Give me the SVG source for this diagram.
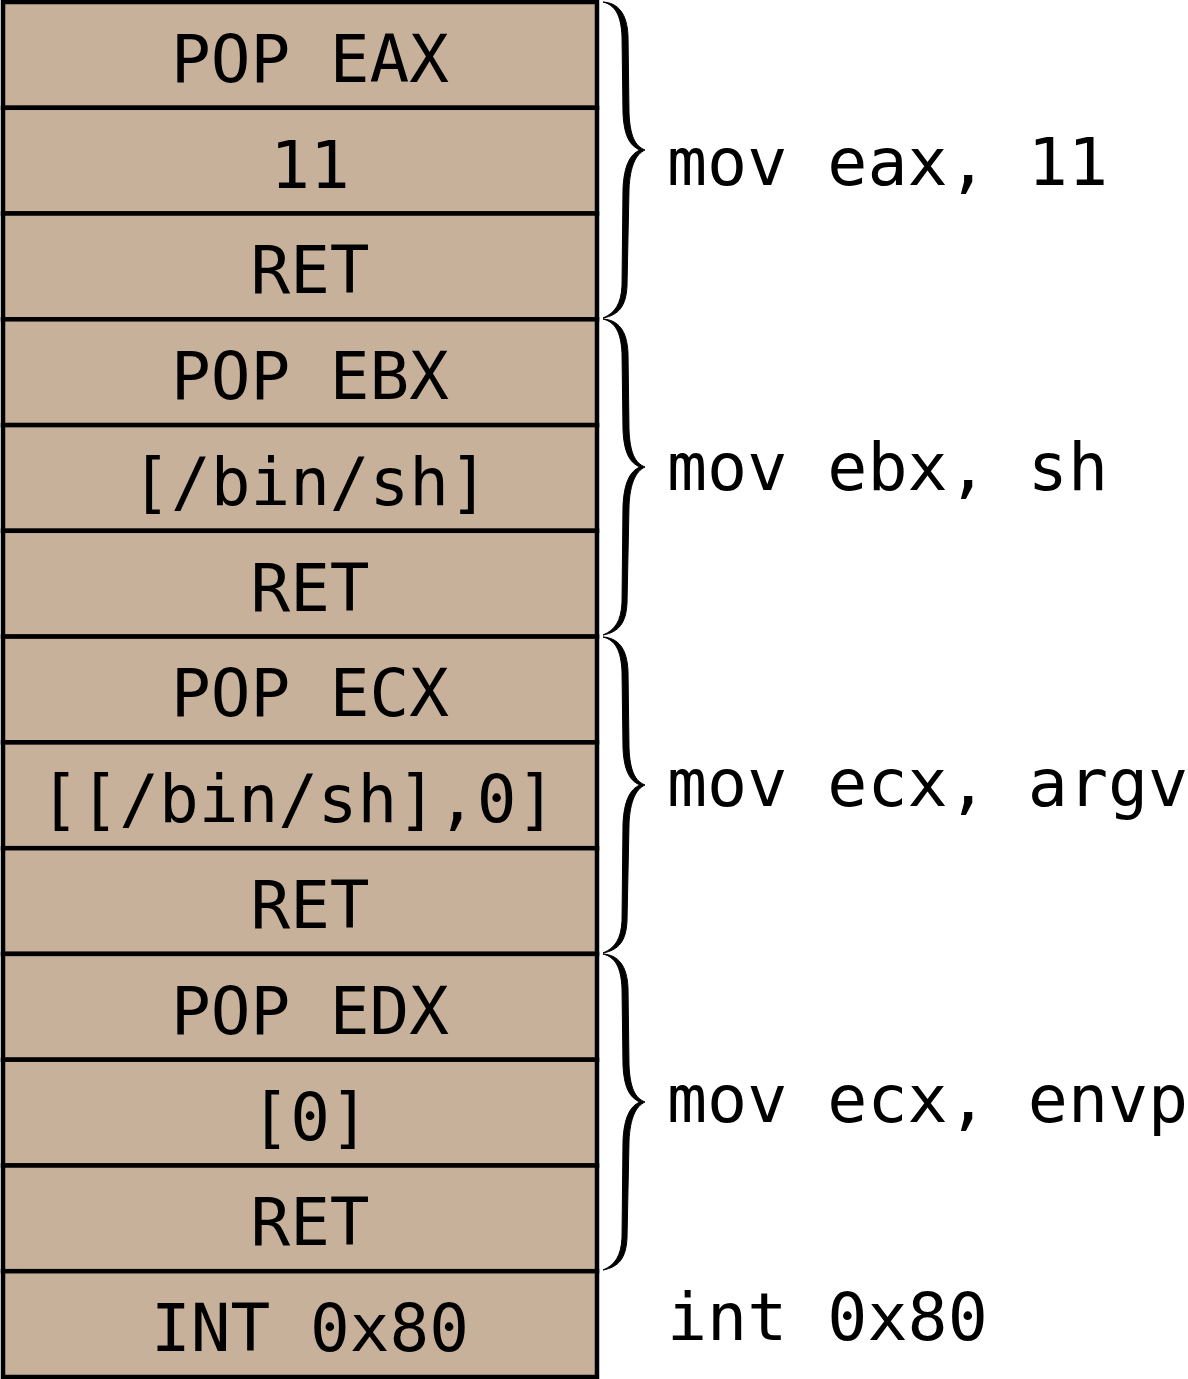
<svg xmlns="http://www.w3.org/2000/svg" width="1188" height="1379" viewBox="0 0 1188 1379">
<style>
.cell{fill:#c8b19a;stroke:#000;stroke-width:4.5}
.t{font-family:"DejaVu Sans Mono","Liberation Mono",monospace;font-size:66px;fill:#000}
.r{font-size:66.6px}
.c{text-anchor:middle}
.brace{fill:#000;stroke:#000;stroke-width:1}
</style>
<defs>
<path id="brace" d="M603 1 C618 2 627 12 628 35 L629 112 C630 135 635 145 645 149 C636 153 630 165 629 188 L627 285 C626 305 619 314 603 317 C615 312 621 303 622 285 L623 188 C624 165 630 153 640 149 C630 145 624 135 623 112 L622 35 C621 14 615 4 603 1 Z"/>
</defs>
<rect x="0" y="0" width="1188" height="1379" fill="#fff"/>
<g id="stack">
<g id="cell1"><rect class="cell" x="3" y="2" width="594" height="105.8"/><text class="t c" x="310" y="82">POP EAX</text></g>
<g id="cell2"><rect class="cell" x="3" y="107.8" width="594" height="105.7"/><text class="t c" x="310" y="188">11</text></g>
<g id="cell3"><rect class="cell" x="3" y="213.5" width="594" height="105.8"/><text class="t c" x="310" y="293">RET</text></g>
<g id="cell4"><rect class="cell" x="3" y="319.3" width="594" height="105.8"/><text class="t c" x="310" y="399">POP EBX</text></g>
<g id="cell5"><rect class="cell" x="3" y="425.1" width="594" height="105.7"/><text class="t c" x="310" y="505">[/bin/sh]</text></g>
<g id="cell6"><rect class="cell" x="3" y="530.8" width="594" height="105.8"/><text class="t c" x="310" y="611">RET</text></g>
<g id="cell7"><rect class="cell" x="3" y="636.6" width="594" height="105.8"/><text class="t c" x="310" y="716">POP ECX</text></g>
<g id="cell8"><rect class="cell" x="3" y="742.4" width="594" height="105.8"/><text class="t c" x="298" y="822">[[/bin/sh],0]</text></g>
<g id="cell9"><rect class="cell" x="3" y="848.2" width="594" height="105.7"/><text class="t c" x="310" y="928">RET</text></g>
<g id="cell10"><rect class="cell" x="3" y="953.9" width="594" height="105.8"/><text class="t c" x="310" y="1034">POP EDX</text></g>
<g id="cell11"><rect class="cell" x="3" y="1059.7" width="594" height="105.8"/><text class="t c" x="310" y="1140">[0]</text></g>
<g id="cell12"><rect class="cell" x="3" y="1165.5" width="594" height="105.7"/><text class="t c" x="310" y="1245">RET</text></g>
<g id="cell13"><rect class="cell" x="3" y="1271.2" width="594" height="105.8"/><text class="t c" x="310" y="1351">INT 0x80</text></g>
</g>
<g id="connectors">
<use href="#brace" class="brace" transform="translate(0,1)"/>
<use href="#brace" class="brace" transform="translate(0,318)"/>
<use href="#brace" class="brace" transform="translate(0,636)"/>
<use href="#brace" class="brace" transform="translate(0,953)"/>
</g>
<g id="labels">
<g id="label1"><text class="t r" x="667" y="185">mov eax, 11</text></g>
<g id="label2"><text class="t r" x="667" y="490">mov ebx, sh</text></g>
<g id="label3"><text class="t r" x="667" y="806">mov ecx, argv</text></g>
<g id="label4"><text class="t r" x="667" y="1122">mov ecx, envp</text></g>
<g id="label5"><text class="t r" x="667" y="1340">int 0x80</text></g>
</g>
</svg>
